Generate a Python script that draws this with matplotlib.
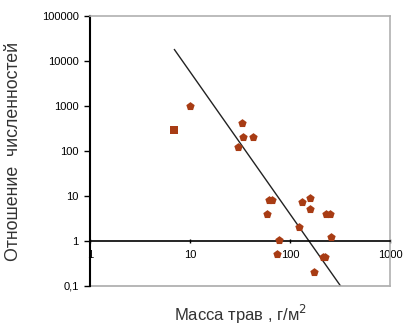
import matplotlib.pyplot as plt
from matplotlib.ticker import FixedLocator, FixedFormatter

plt.rcParams['font.family'] = ['Liberation Sans', 'DejaVu Sans']

# точки: масса трав (г/м2) и отношение численностей
mass = [7, 10, 33, 34, 43, 30, 62, 66, 59, 78, 74, 131, 160, 160, 124, 175, 212, 224, 231, 251, 255]
ratio = [300, 1000, 420, 200, 210, 120, 8, 8, 4, 1.05, 0.51, 7.2, 9, 5.1, 2.05, 0.2, 0.43, 0.43, 4, 4, 1.25]

# линия регрессии (концы)
line_x = [7, 320]
line_y = [18000, 0.1]

xticks = [1, 10, 100, 1000]
xlabels = ['1', '10', '100', '1000']
yticks = [0.1, 1, 10, 100, 1000, 10000, 100000]
ylabels = ['0,1', '1', '10', '100', '1000', '10000', '100000']

fig = plt.figure(figsize=(4.05, 3.29), dpi=100)
ax = fig.add_axes([0.222, 0.131, 0.741, 0.82])
ax.set_xscale('log')
ax.set_yscale('log')
ax.set_xlim(1, 1000)
ax.set_ylim(0.1, 100000)

col = '#a83c14'
ax.scatter(mass[:1], ratio[:1], marker='s', s=28, color=col, zorder=3, linewidths=0)
ax.scatter(mass[1:], ratio[1:], marker='p', s=40, color=col, zorder=3, linewidths=0)
ax.plot(line_x, line_y, color='#222222', lw=1, zorder=2)

ax.axhline(0.1, color='#aaaaaa', lw=1.2, clip_on=False)
ax.spines['bottom'].set_position(('data', 1))
ax.spines['bottom'].set_color('black')
ax.spines['bottom'].set_linewidth(1.2)
ax.spines['left'].set_linewidth(1.5)
for s in ['top', 'right']:
    ax.spines[s].set_color('#b0b0b0')
    ax.spines[s].set_linewidth(1.2)

ax.xaxis.set_major_locator(FixedLocator(xticks))
ax.xaxis.set_major_formatter(FixedFormatter(xlabels))
ax.yaxis.set_major_locator(FixedLocator(yticks))
ax.yaxis.set_major_formatter(FixedFormatter(ylabels))
ax.minorticks_off()
ax.tick_params(axis='y', length=4, width=1, labelsize=8, pad=4)
ax.tick_params(axis='x', length=3, width=1, labelsize=8, pad=5, direction='inout')

ax.set_ylabel('Отношение  численностей', fontsize=12.8, color='#333333')
ax.yaxis.set_label_coords(-0.225, 0.5)
fig.text(0.593, 0.025, 'Масса трав , г/м$^2$', fontsize=12, color='#333333', ha='center')

fig.savefig('out.png', dpi=100)
